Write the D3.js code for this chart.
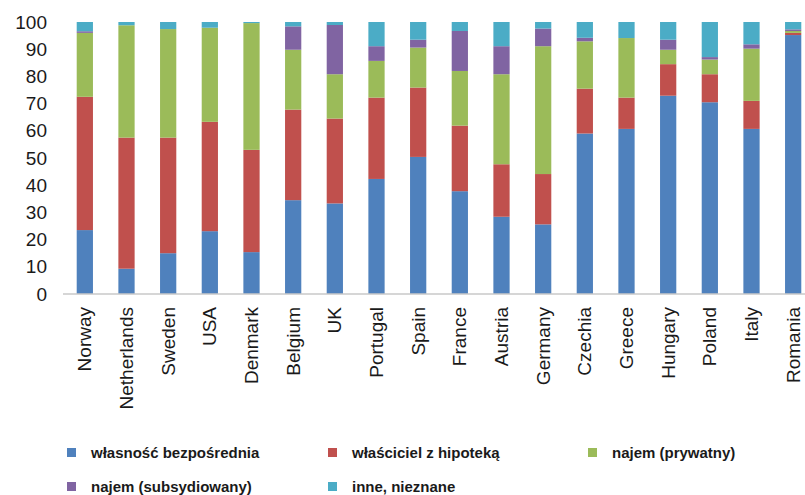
<!DOCTYPE html>
<html>
<head>
<meta charset="utf-8">
<script src="https://cdn.jsdelivr.net/npm/d3@7"></script>
<style>
    body { margin: 0; background: #fff; }
    svg { display: block; font-family: "Liberation Sans", Arial, sans-serif; }
    .axis-x path { stroke: #c8c8c8; stroke-width: 1.5; }
    .legend-label { font-size: 15px; font-weight: bold; fill: #1a1a1a; }
</style>
</head>
<body>
<div id="chart"></div>
<script>
'use strict';

// Data (percent shares per country)
const countries = ['Norway', 'Netherlands', 'Sweden', 'USA', 'Denmark', 'Belgium', 'UK', 'Portugal', 'Spain',
    'France', 'Austria', 'Germany', 'Czechia', 'Greece', 'Hungary', 'Poland', 'Italy', 'Romania'];

const seriesNames = ['własność bezpośrednia', 'właściciel z hipoteką', 'najem (prywatny)',
    'najem (subsydiowany)', 'inne, nieznane'];

const outright   = [23.5, 9.3, 15.0, 23.1, 15.4, 34.5, 33.3, 42.3, 50.4, 37.8, 28.4, 25.6, 59.0, 60.7, 72.9, 70.5, 60.7, 95.2];
const mortgage   = [49.0, 48.2, 42.5, 40.2, 37.6, 33.3, 31.2, 29.9, 25.5, 24.1, 19.3, 18.5, 16.5, 11.5, 11.6, 10.3, 10.3, 0.8];
const rentPriv   = [23.5, 41.3, 39.9, 34.6, 46.6, 22.0, 16.3, 13.5, 14.7, 20.1, 33.1, 47.0, 17.4, 21.9, 5.3, 5.4, 19.2, 0.7];
const rentSubs   = [0.6, 0.0, 0.0, 0.0, 0.0, 8.6, 18.1, 5.4, 2.9, 14.7, 10.3, 6.5, 1.3, 0.0, 3.7, 0.9, 1.6, 0.6];
const other      = [3.4, 1.2, 2.6, 2.1, 0.4, 1.6, 1.1, 8.9, 6.5, 3.3, 8.9, 2.4, 5.8, 5.9, 6.5, 12.9, 8.2, 2.7];

const yTicks = [0, 10, 20, 30, 40, 50, 60, 70, 80, 90, 100];
const colors = ['#4f81bd', '#c0504d', '#9bbb59', '#8064a2', '#4bacc6'];

const width = 805, height = 495;
const margins = { left: 64, right: -9, top: 22, bottom: 201 };

const svg = d3.select('#chart').append('svg')
    .attr('width', width)
    .attr('height', height);

// Build stack table
const table = countries.map((c, i) => ({
    country: c, s0: outright[i], s1: mortgage[i], s2: rentPriv[i], s3: rentSubs[i], s4: other[i]
}));
const keys = ['s0', 's1', 's2', 's3', 's4'];
const stacked = d3.stack().keys(keys)(table);

const scaleX = d3.scaleBand()
    .domain(countries)
    .range([margins.left, width - margins.right])
    .paddingInner(0.61)
    .paddingOuter(0.305);

const scaleY = d3.scaleLinear()
    .domain([0, 100])
    .range([height - margins.bottom, margins.top]);

// Bars
svg.append('g').selectAll('g.series')
    .data(stacked)
    .join('g')
    .classed('series', true)
    .attr('fill', (d, i) => colors[i])
    .selectAll('rect')
    .data(d => d)
    .join('rect')
    .attr('x', d => scaleX(d.data.country))
    .attr('width', scaleX.bandwidth())
    .attr('y', d => scaleY(d[1]))
    .attr('height', d => scaleY(d[0]) - scaleY(d[1]));

// X axis
const axisX = svg.append('g')
    .classed('axis-x', true)
    .attr('transform', `translate(0, ${scaleY(0)})`)
    .call(d3.axisBottom(scaleX).tickSize(0).tickSizeOuter(0));
axisX.select('path').attr('d', `M${margins.left - 1},0H${width}`);
axisX.selectAll('text')
    .attr('transform', 'rotate(-90)')
    .attr('x', -13)
    .attr('y', 0)
    .attr('dy', '0.35em')
    .style('text-anchor', 'end')
    .style('font-size', '19px')
    .style('font-family', '"Liberation Sans", Arial, sans-serif')
    .attr('fill', '#1a1a1a');

// Y axis (labels only)
const axisY = svg.append('g')
    .attr('transform', `translate(${margins.left}, 0)`)
    .call(d3.axisLeft(scaleY).tickValues(yTicks).tickSize(0).tickPadding(17));
axisY.select('path').remove();
axisY.selectAll('text')
    .style('font-size', '19px')
    .style('font-family', '"Liberation Sans", Arial, sans-serif')
    .attr('fill', '#1a1a1a');

// Legend
const legendPos = [
    { x: 67, y: 453 }, { x: 328, y: 453 }, { x: 588, y: 453 },
    { x: 67, y: 487 }, { x: 328, y: 487 }
];
const legend = svg.append('g').selectAll('g.legend-item')
    .data(seriesNames)
    .join('g')
    .classed('legend-item', true)
    .attr('transform', (d, i) => `translate(${legendPos[i].x}, ${legendPos[i].y})`);

legend.append('rect')
    .attr('x', 0).attr('y', -5)
    .attr('width', 9).attr('height', 9)
    .attr('fill', (d, i) => colors[i]);

legend.append('text')
    .classed('legend-label', true)
    .attr('x', 24)
    .attr('dy', '0.35em')
    .text(d => d);
</script>
</body>
</html>
